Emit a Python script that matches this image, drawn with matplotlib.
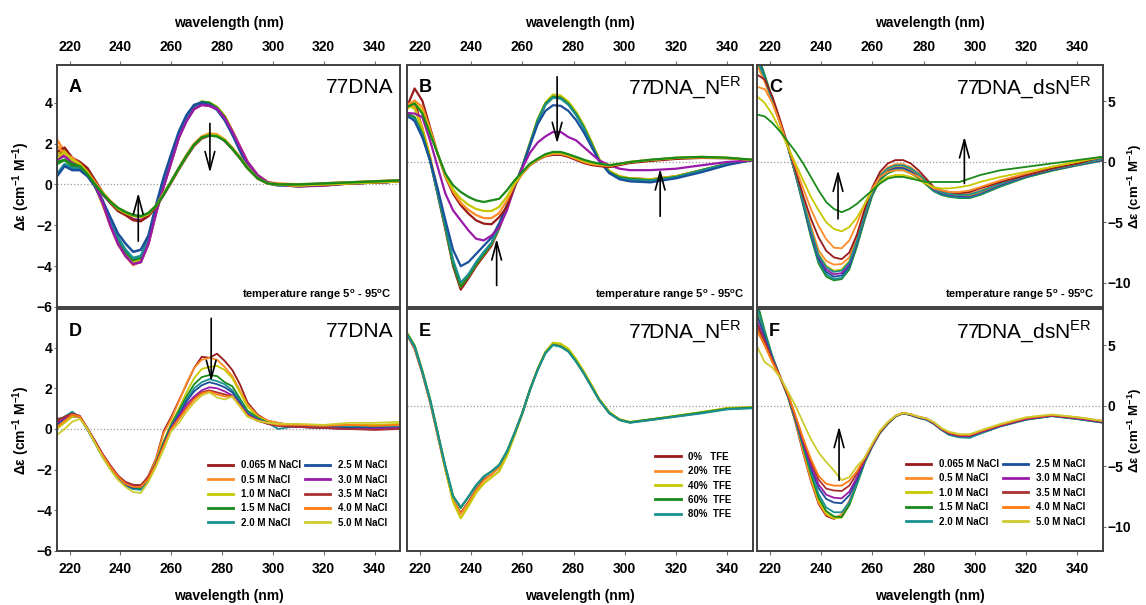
import matplotlib
matplotlib.use("Agg")
import matplotlib.pyplot as plt

plt.rcParams["font.family"] = ["Liberation Sans", "DejaVu Sans"]

# wavelength grid (nm) shared by all spectra
WL = [215, 218, 221, 224, 227, 230, 233, 236, 239, 242, 245, 248, 251, 254, 257, 260, 263,
      266, 269, 272, 275, 278, 281, 284, 287, 290, 294, 298, 302, 310, 320, 330, 340, 350]
XTICKS = [220, 240, 260, 280, 300, 320, 340]

DKRED, ORANGE, YELLOW, GREEN, TEAL = "#991a1a", "#ff8c28", "#c8c800", "#1a8a1a", "#1a9090"
BLUE, PURPLE, BROWN, ORANGE2, YELLOW2 = "#1a4f9a", "#9a1aaa", "#a83232", "#ff7a10", "#cccc30"
SALT_COLORS = [DKRED, ORANGE, YELLOW, GREEN, TEAL, BLUE, PURPLE, BROWN, ORANGE2, YELLOW2]
SALT_LABELS = ["0.065 M NaCl", "0.5 M NaCl", "1.0 M NaCl", "1.5 M NaCl", "2.0 M NaCl",
               "2.5 M NaCl", "3.0 M NaCl", "3.5 M NaCl", "4.0 M NaCl", "5.0 M NaCl"]
TFE_COLORS = [DKRED, ORANGE, YELLOW, GREEN, TEAL]
TFE_LABELS = ["0%   TFE", "20%  TFE", "40%  TFE", "60%  TFE", "80%  TFE"]

# ---- panel A: 77DNA, temperature 5-95 C
A_CURVES = [
    [1.6, 1.5, 1.1, 1.0, 0.7, 0.1, -0.9, -2.0, -2.9, -3.5, -3.9, -3.8, -2.9, -1.4, -0.1, 1.1, 2.3, 3.15, 3.7, 3.9, 3.85, 3.7, 3.3, 2.6, 1.85, 1.1, 0.45, 0.1, 0.0, -0.05, -0.05, 0.05, 0.1, 0.15],
    [2.2, 1.6, 1.2, 0.9, 0.5, -0.1, -1.0, -2.0, -2.9, -3.5, -3.95, -3.75, -2.85, -1.35, 0.0, 1.2, 2.35, 3.2, 3.8, 4.0, 3.95, 3.75, 3.35, 2.65, 1.85, 1.1, 0.45, 0.1, 0.05, 0.0, 0.05, 0.1, 0.15, 0.2],
    [1.5, 1.8, 1.1, 0.9, 0.6, 0.0, -0.9, -1.9, -2.8, -3.4, -3.8, -3.65, -2.8, -1.3, 0.0, 1.2, 2.35, 3.2, 3.8, 4.05, 4.0, 3.8, 3.35, 2.6, 1.8, 1.05, 0.4, 0.08, 0.0, -0.05, 0.0, 0.05, 0.1, 0.15],
    [1.0, 1.2, 0.9, 0.8, 0.5, 0.0, -0.8, -1.8, -2.7, -3.3, -3.7, -3.6, -2.7, -1.2, 0.1, 1.3, 2.45, 3.3, 3.85, 4.05, 4.0, 3.75, 3.3, 2.55, 1.75, 1.0, 0.35, 0.05, 0.0, -0.1, 0.0, 0.05, 0.1, 0.15],
    [0.5, 1.0, 0.8, 0.8, 0.5, -0.1, -0.9, -1.8, -2.6, -3.2, -3.6, -3.5, -2.7, -1.2, 0.2, 1.4, 2.5, 3.3, 3.85, 4.0, 3.9, 3.7, 3.2, 2.5, 1.7, 0.95, 0.35, 0.05, 0.0, -0.05, 0.0, 0.05, 0.1, 0.15],
    [0.4, 0.9, 0.7, 0.7, 0.4, -0.1, -0.8, -1.6, -2.4, -2.9, -3.3, -3.2, -2.5, -1.0, 0.35, 1.5, 2.6, 3.4, 3.9, 4.0, 3.9, 3.65, 3.15, 2.45, 1.65, 0.9, 0.3, 0.05, -0.05, -0.05, 0.0, 0.05, 0.1, 0.15],
    [1.4, 1.4, 1.0, 0.9, 0.6, 0.0, -0.9, -2.0, -2.9, -3.5, -3.9, -3.8, -2.9, -1.4, -0.1, 1.1, 2.3, 3.1, 3.7, 3.9, 3.85, 3.7, 3.25, 2.6, 1.85, 1.1, 0.45, 0.1, 0.0, -0.1, -0.05, 0.05, 0.1, 0.15],
    [1.2, 1.4, 1.1, 1.0, 0.7, 0.1, -0.5, -0.9, -1.25, -1.45, -1.7, -1.75, -1.5, -1.1, -0.5, 0.15, 0.8, 1.4, 1.95, 2.3, 2.45, 2.4, 2.15, 1.75, 1.3, 0.8, 0.3, 0.05, 0.0, -0.05, 0.0, 0.05, 0.1, 0.15],
    [1.6, 1.8, 1.3, 1.1, 0.8, 0.2, -0.4, -0.9, -1.3, -1.5, -1.75, -1.8, -1.55, -1.1, -0.5, 0.1, 0.75, 1.35, 1.9, 2.25, 2.4, 2.4, 2.15, 1.75, 1.3, 0.8, 0.3, 0.05, 0.0, -0.05, 0.0, 0.05, 0.1, 0.15],
    [1.9, 1.5, 1.3, 1.0, 0.6, 0.1, -0.4, -0.8, -1.15, -1.35, -1.5, -1.6, -1.4, -1.05, -0.45, 0.15, 0.8, 1.45, 2.0, 2.35, 2.5, 2.45, 2.2, 1.8, 1.35, 0.85, 0.3, 0.05, 0.0, -0.05, 0.05, 0.1, 0.15, 0.2],
    [1.3, 1.6, 1.2, 1.0, 0.6, 0.0, -0.4, -0.85, -1.2, -1.4, -1.55, -1.6, -1.45, -1.05, -0.45, 0.15, 0.8, 1.4, 1.95, 2.3, 2.45, 2.4, 2.2, 1.75, 1.3, 0.8, 0.3, 0.05, 0.0, -0.05, 0.0, 0.05, 0.1, 0.15],
    [1.1, 1.2, 1.0, 0.9, 0.5, 0.0, -0.45, -0.85, -1.15, -1.35, -1.5, -1.55, -1.4, -1.05, -0.5, 0.15, 0.8, 1.4, 1.95, 2.3, 2.4, 2.35, 2.15, 1.75, 1.3, 0.8, 0.3, 0.05, 0.0, 0.0, 0.05, 0.1, 0.15, 0.2],
]
A_COLORS = [DKRED, ORANGE, YELLOW, GREEN, TEAL, BLUE, PURPLE, PURPLE, DKRED, ORANGE, YELLOW, GREEN]

# ---- panel B: 77DNA_N^ER, temperature 5-95 C
B_CURVES = [
    [2.6, 3.0, 1.6, 0.1, -1.6, -3.3, -5.1, -6.25, -5.7, -5.1, -4.6, -4.1, -3.25, -2.25, -1.25, -0.3, 0.85, 2.0, 2.8, 3.2, 3.2, 2.9, 2.4, 1.75, 0.95, 0.1, -0.5, -0.75, -0.8, -0.85, -0.7, -0.4, -0.1, 0.1],
    [2.9, 2.7, 1.7, 0.3, -1.4, -3.1, -4.9, -6.1, -5.6, -5.0, -4.5, -4.0, -3.2, -2.2, -1.2, -0.25, 0.9, 2.05, 2.85, 3.25, 3.2, 2.9, 2.4, 1.75, 0.95, 0.12, -0.45, -0.7, -0.8, -0.85, -0.7, -0.4, -0.1, 0.1],
    [2.8, 2.6, 1.6, 0.2, -1.5, -3.15, -4.95, -6.0, -5.55, -5.0, -4.5, -4.0, -3.2, -2.2, -1.2, -0.2, 0.95, 2.1, 2.9, 3.3, 3.25, 2.95, 2.45, 1.8, 1.0, 0.15, -0.45, -0.7, -0.8, -0.85, -0.7, -0.4, -0.1, 0.1],
    [2.37, 2.2, 1.4, 0.1, -1.55, -3.2, -5.0, -6.1, -5.6, -5.0, -4.5, -4.0, -3.2, -2.2, -1.2, -0.25, 0.9, 2.05, 2.85, 3.2, 3.15, 2.85, 2.35, 1.7, 0.9, 0.08, -0.5, -0.75, -0.82, -0.9, -0.73, -0.4, -0.08, 0.1],
    [2.2, 2.1, 1.3, 0.05, -1.5, -3.1, -4.8, -5.9, -5.5, -4.9, -4.4, -3.95, -3.15, -2.2, -1.2, -0.25, 0.88, 2.0, 2.8, 3.15, 3.1, 2.8, 2.3, 1.65, 0.85, 0.05, -0.55, -0.8, -0.88, -0.92, -0.75, -0.42, -0.1, 0.1],
    [2.3, 2.0, 1.2, 0.1, -1.3, -2.85, -4.3, -5.1, -4.9, -4.5, -4.1, -3.7, -3.0, -2.1, -1.15, -0.25, 0.8, 1.85, 2.5, 2.78, 2.75, 2.5, 2.05, 1.45, 0.75, 0.05, -0.55, -0.85, -0.95, -1.0, -0.8, -0.5, -0.15, 0.1],
    [2.4, 2.37, 2.2, 1.06, -0.25, -1.55, -2.37, -2.86, -3.35, -3.76, -3.84, -3.6, -3.2, -2.37, -1.2, -0.3, 0.45, 0.95, 1.25, 1.47, 1.47, 1.22, 1.06, 0.73, 0.4, 0.08, -0.16, -0.33, -0.4, -0.4, -0.33, -0.16, 0.0, 0.08],
    [2.7, 3.6, 3.0, 1.7, 0.4, -0.73, -1.55, -2.12, -2.53, -2.86, -3.02, -3.05, -2.7, -2.2, -1.14, -0.57, -0.16, 0.1, 0.28, 0.35, 0.35, 0.25, 0.1, -0.05, -0.15, -0.2, -0.25, -0.15, -0.05, 0.05, 0.15, 0.2, 0.18, 0.1],
    [2.8, 3.0, 2.7, 1.6, 0.4, -0.7, -1.45, -2.0, -2.35, -2.6, -2.75, -2.75, -2.5, -1.9, -1.1, -0.55, -0.15, 0.12, 0.3, 0.4, 0.4, 0.3, 0.15, 0.0, -0.1, -0.15, -0.2, -0.1, 0.0, 0.1, 0.2, 0.22, 0.2, 0.1],
    [2.6, 2.9, 2.5, 1.5, 0.4, -0.65, -1.35, -1.8, -2.1, -2.3, -2.4, -2.4, -2.2, -1.7, -1.05, -0.55, -0.12, 0.15, 0.35, 0.45, 0.45, 0.35, 0.2, 0.05, -0.05, -0.1, -0.15, -0.1, 0.0, 0.1, 0.2, 0.25, 0.2, 0.1],
    [2.7, 2.86, 2.37, 1.39, 0.4, -0.57, -1.14, -1.47, -1.71, -1.88, -1.96, -1.88, -1.8, -1.39, -0.9, -0.49, -0.08, 0.16, 0.38, 0.49, 0.49, 0.38, 0.25, 0.11, 0.0, -0.08, -0.16, -0.08, 0.0, 0.11, 0.21, 0.25, 0.21, 0.11],
]
B_COLORS = [DKRED, ORANGE, YELLOW, GREEN, TEAL, BLUE, PURPLE, DKRED, ORANGE, YELLOW, GREEN]

# ---- panel C: 77DNA_dsN^ER, temperature 5-95 C
C_CURVES = [
    [9.0, 7.2, 5.2, 3.2, 1.2, -1.1, -3.6, -6.2, -8.4, -9.5, -9.8, -9.7, -8.9, -7.0, -4.8, -2.8, -1.5, -0.95, -0.7, -0.7, -0.95, -1.35, -1.9, -2.45, -2.75, -2.9, -3.0, -3.0, -2.75, -2.05, -1.3, -0.75, -0.3, 0.1],
    [8.8, 7.0, 5.1, 3.2, 1.25, -1.0, -3.5, -6.0, -8.2, -9.3, -9.7, -9.6, -8.75, -6.8, -4.6, -2.65, -1.4, -0.85, -0.6, -0.6, -0.85, -1.25, -1.8, -2.4, -2.7, -2.85, -2.95, -2.95, -2.7, -2.0, -1.25, -0.7, -0.28, 0.12],
    [8.6, 6.9, 5.0, 3.2, 1.25, -1.0, -3.4, -5.9, -8.0, -9.1, -9.5, -9.4, -8.6, -6.7, -4.5, -2.55, -1.3, -0.75, -0.5, -0.5, -0.75, -1.2, -1.75, -2.3, -2.6, -2.75, -2.85, -2.85, -2.6, -1.9, -1.2, -0.68, -0.25, 0.15],
    [8.5, 6.8, 5.0, 3.2, 1.3, -0.95, -3.3, -5.7, -7.8, -8.9, -9.3, -9.2, -8.4, -6.5, -4.4, -2.45, -1.2, -0.65, -0.4, -0.4, -0.65, -1.1, -1.7, -2.25, -2.55, -2.7, -2.8, -2.8, -2.55, -1.85, -1.15, -0.62, -0.22, 0.2],
    [8.3, 6.7, 4.9, 3.2, 1.3, -0.9, -3.2, -5.5, -7.6, -8.6, -9.0, -8.9, -8.2, -6.4, -4.3, -2.4, -1.15, -0.6, -0.35, -0.35, -0.6, -1.05, -1.65, -2.2, -2.5, -2.65, -2.75, -2.75, -2.5, -1.8, -1.1, -0.6, -0.2, 0.25],
    [8.0, 6.6, 4.9, 3.2, 1.35, -0.85, -3.1, -5.3, -7.3, -8.2, -8.5, -8.45, -7.9, -6.2, -4.15, -2.3, -1.05, -0.45, -0.2, -0.2, -0.45, -0.95, -1.55, -2.15, -2.45, -2.6, -2.7, -2.65, -2.4, -1.75, -1.05, -0.55, -0.15, 0.3],
    [8.4, 6.9, 5.0, 3.2, 1.3, -0.95, -3.3, -5.6, -7.7, -8.7, -9.1, -9.0, -8.3, -6.5, -4.35, -2.4, -1.15, -0.55, -0.3, -0.3, -0.55, -1.0, -1.6, -2.2, -2.5, -2.65, -2.75, -2.7, -2.45, -1.8, -1.1, -0.6, -0.2, 0.25],
    [7.2, 6.8, 5.4, 3.47, 1.4, -0.7, -2.8, -4.7, -6.25, -7.36, -7.9, -8.05, -7.5, -6.0, -3.9, -2.1, -0.83, -0.14, 0.14, 0.14, -0.14, -0.7, -1.39, -2.1, -2.36, -2.5, -2.6, -2.5, -2.2, -1.67, -1.1, -0.55, -0.14, 0.42],
    [6.2, 6.0, 4.86, 3.2, 1.25, -0.42, -2.2, -3.9, -5.3, -6.4, -7.1, -7.15, -6.5, -5.1, -3.5, -2.2, -1.25, -0.83, -0.7, -0.7, -0.97, -1.25, -1.8, -2.2, -2.36, -2.5, -2.5, -2.36, -2.1, -1.53, -0.97, -0.42, 0.0, 0.42],
    [5.4, 4.86, 3.9, 2.64, 1.25, -0.14, -1.53, -2.9, -4.0, -5.0, -5.55, -5.75, -5.4, -4.6, -3.5, -2.36, -1.67, -1.25, -1.1, -1.1, -1.25, -1.53, -1.8, -2.1, -2.2, -2.2, -2.1, -1.95, -1.67, -1.25, -0.83, -0.42, 0.0, 0.42],
    [3.9, 3.75, 3.2, 2.5, 1.67, 0.83, -0.14, -1.25, -2.36, -3.33, -3.9, -4.17, -3.9, -3.47, -2.9, -2.36, -1.8, -1.39, -1.25, -1.25, -1.39, -1.53, -1.67, -1.67, -1.67, -1.67, -1.67, -1.39, -1.1, -0.7, -0.42, -0.14, 0.14, 0.42],
]
C_COLORS = [GREEN, TEAL, BLUE, PURPLE, YELLOW, ORANGE, TEAL, DKRED, ORANGE, YELLOW, GREEN]

# ---- panel D: 77DNA, NaCl series
D_CURVES = [
    [0.5, 0.55, 0.6, 0.6, 0.05, -0.6, -1.25, -1.8, -2.3, -2.65, -2.75, -2.85, -2.3, -1.45, -0.1, 0.6, 1.4, 2.2, 3.0, 3.55, 3.5, 3.7, 3.35, 2.9, 2.2, 1.3, 0.7, 0.4, 0.3, 0.1, 0.05, 0.0, 0.0, 0.05],
    [0.3, 0.5, 0.7, 0.6, 0.0, -0.65, -1.3, -1.85, -2.35, -2.7, -2.85, -2.9, -2.35, -1.5, -0.2, 0.5, 1.35, 2.25, 3.0, 3.4, 3.5, 3.4, 3.05, 2.6, 1.9, 1.2, 0.65, 0.4, 0.3, 0.15, 0.1, 0.05, 0.1, 0.1],
    [0.0, 0.3, 0.6, 0.6, 0.0, -0.65, -1.3, -1.85, -2.35, -2.7, -2.9, -2.9, -2.4, -1.6, -0.6, 0.3, 1.0, 1.8, 2.5, 2.95, 3.05, 3.1, 2.9, 2.5, 1.8, 1.1, 0.6, 0.35, 0.25, 0.2, 0.15, 0.2, 0.2, 0.25],
    [0.4, 0.6, 0.8, 0.6, 0.0, -0.7, -1.35, -1.9, -2.4, -2.75, -2.95, -2.95, -2.45, -1.65, -0.65, 0.2, 0.9, 1.6, 2.2, 2.55, 2.65, 2.6, 2.3, 2.1, 1.5, 0.9, 0.55, 0.3, 0.2, 0.1, 0.05, 0.05, 0.0, 0.0],
    [0.3, 0.6, 0.85, 0.55, -0.05, -0.7, -1.4, -1.95, -2.45, -2.8, -2.95, -3.0, -2.5, -1.7, -0.7, 0.15, 0.8, 1.45, 2.0, 2.3, 2.45, 2.35, 2.2, 1.9, 1.4, 0.8, 0.5, 0.3, 0.0, 0.15, 0.15, 0.1, 0.15, 0.1],
    [0.2, 0.5, 0.7, 0.6, 0.0, -0.65, -1.3, -1.9, -2.4, -2.75, -2.9, -2.85, -2.45, -1.7, -0.75, 0.1, 0.7, 1.35, 1.85, 2.15, 2.3, 2.2, 2.05, 1.8, 1.3, 0.75, 0.45, 0.3, 0.2, 0.1, 0.1, 0.05, 0.05, 0.05],
    [0.3, 0.55, 0.75, 0.6, 0.0, -0.6, -1.25, -1.8, -2.3, -2.65, -2.8, -2.8, -2.4, -1.7, -0.8, 0.05, 0.6, 1.2, 1.6, 1.9, 2.05, 2.0, 1.85, 1.65, 1.2, 0.7, 0.45, 0.25, 0.15, 0.1, 0.05, 0.0, 0.0, 0.05],
    [0.4, 0.6, 0.75, 0.65, 0.0, -0.6, -1.25, -1.8, -2.3, -2.6, -2.75, -2.75, -2.35, -1.7, -0.8, 0.0, 0.5, 1.05, 1.5, 1.8, 1.9, 1.8, 1.7, 1.6, 1.15, 0.65, 0.4, 0.25, 0.15, 0.1, 0.05, 0.0, -0.05, 0.0],
    [0.1, 0.4, 0.7, 0.6, 0.0, -0.65, -1.3, -1.85, -2.35, -2.7, -2.85, -2.85, -2.45, -1.75, -0.85, 0.0, 0.5, 1.0, 1.45, 1.75, 1.85, 1.7, 1.6, 1.6, 1.15, 0.65, 0.4, 0.3, 0.2, 0.2, 0.15, 0.2, 0.15, 0.2],
    [-0.3, 0.0, 0.35, 0.5, 0.0, -0.7, -1.4, -2.0, -2.5, -2.85, -3.1, -3.15, -2.6, -1.85, -1.0, -0.1, 0.3, 0.85, 1.3, 1.65, 1.8, 1.55, 1.45, 1.6, 1.1, 0.6, 0.4, 0.3, 0.25, 0.25, 0.2, 0.3, 0.3, 0.35],
]

# ---- panel E: 77DNA_N^ER, TFE series
E_CURVES = [
    [3.5, 2.8, 1.6, 0.2, -1.45, -3.1, -4.6, -5.25, -4.7, -4.1, -3.6, -3.35, -3.0, -2.3, -1.35, -0.35, 0.8, 1.8, 2.6, 3.0, 2.95, 2.7, 2.2, 1.62, 0.97, 0.3, -0.35, -0.68, -0.8, -0.68, -0.5, -0.33, -0.12, -0.08],
    [3.55, 2.85, 1.65, 0.25, -1.4, -3.05, -4.6, -5.3, -4.75, -4.15, -3.65, -3.35, -3.0, -2.3, -1.35, -0.35, 0.8, 1.8, 2.62, 3.05, 3.0, 2.72, 2.22, 1.65, 1.0, 0.32, -0.33, -0.67, -0.8, -0.67, -0.5, -0.32, -0.12, -0.08],
    [3.6, 2.95, 1.75, 0.3, -1.35, -3.1, -4.7, -5.5, -4.9, -4.25, -3.8, -3.5, -3.2, -2.45, -1.45, -0.4, 0.78, 1.8, 2.65, 3.1, 3.05, 2.8, 2.3, 1.7, 1.05, 0.35, -0.3, -0.65, -0.78, -0.66, -0.48, -0.3, -0.1, -0.05],
    [3.55, 2.95, 1.7, 0.35, -1.3, -2.95, -4.4, -5.0, -4.45, -3.9, -3.45, -3.2, -2.88, -2.22, -1.32, -0.35, 0.8, 1.78, 2.6, 3.0, 2.92, 2.68, 2.18, 1.6, 0.95, 0.3, -0.35, -0.68, -0.8, -0.66, -0.5, -0.32, -0.14, -0.08],
    [3.5, 2.9, 1.68, 0.3, -1.34, -2.97, -4.44, -4.95, -4.44, -3.87, -3.46, -3.2, -2.9, -2.24, -1.34, -0.36, 0.78, 1.76, 2.58, 2.99, 2.9, 2.66, 2.17, 1.6, 0.95, 0.29, -0.36, -0.69, -0.82, -0.69, -0.52, -0.36, -0.16, -0.11],
]

# ---- panel F: 77DNA_dsN^ER, NaCl series
F_CURVES = [
    [6.6, 5.2, 3.7, 2.3, 0.8, -1.4, -3.9, -6.2, -8.1, -9.1, -9.35, -9.0, -7.9, -6.3, -4.6, -3.3, -2.2, -1.45, -0.85, -0.6, -0.75, -0.95, -1.1, -1.45, -1.95, -2.3, -2.5, -2.5, -2.2, -1.65, -1.1, -0.82, -1.05, -1.35],
    [6.3, 5.0, 3.6, 2.3, 0.85, -1.3, -3.8, -6.1, -8.0, -9.0, -9.3, -9.0, -7.95, -6.3, -4.6, -3.3, -2.2, -1.45, -0.85, -0.6, -0.75, -0.95, -1.1, -1.4, -1.9, -2.25, -2.4, -2.4, -2.1, -1.6, -1.05, -0.8, -1.0, -1.3],
    [7.8, 5.8, 3.9, 2.4, 0.8, -1.2, -3.5, -5.8, -7.8, -8.9, -9.3, -9.25, -8.2, -6.4, -4.65, -3.3, -2.2, -1.45, -0.85, -0.6, -0.75, -0.95, -1.1, -1.45, -1.95, -2.3, -2.45, -2.45, -2.15, -1.6, -1.05, -0.8, -1.0, -1.3],
    [8.6, 6.2, 4.1, 2.4, 0.75, -1.2, -3.4, -5.6, -7.6, -8.7, -9.15, -9.2, -8.2, -6.5, -4.7, -3.35, -2.25, -1.5, -0.9, -0.62, -0.78, -1.0, -1.15, -1.5, -2.0, -2.4, -2.6, -2.6, -2.3, -1.7, -1.15, -0.85, -1.1, -1.4],
    [8.2, 6.0, 4.0, 2.4, 0.8, -1.15, -3.3, -5.4, -7.3, -8.4, -8.8, -8.8, -8.0, -6.4, -4.65, -3.3, -2.2, -1.45, -0.88, -0.62, -0.78, -1.0, -1.15, -1.5, -2.0, -2.4, -2.6, -2.65, -2.3, -1.7, -1.15, -0.85, -1.1, -1.4],
    [7.5, 5.7, 3.9, 2.4, 0.9, -1.0, -3.1, -5.1, -6.8, -7.7, -8.0, -8.05, -7.4, -6.1, -4.55, -3.3, -2.2, -1.45, -0.85, -0.6, -0.75, -0.95, -1.1, -1.45, -1.95, -2.3, -2.5, -2.5, -2.2, -1.65, -1.1, -0.82, -1.05, -1.35],
    [7.0, 5.4, 3.8, 2.4, 0.9, -0.95, -3.0, -4.9, -6.5, -7.35, -7.6, -7.65, -7.1, -5.9, -4.5, -3.25, -2.15, -1.4, -0.85, -0.6, -0.75, -0.95, -1.1, -1.45, -1.95, -2.3, -2.5, -2.5, -2.2, -1.65, -1.1, -0.82, -1.05, -1.35],
    [6.8, 5.3, 3.75, 2.4, 0.95, -0.9, -2.85, -4.6, -6.1, -6.85, -7.0, -7.05, -6.6, -5.6, -4.4, -3.2, -2.15, -1.4, -0.85, -0.6, -0.72, -0.92, -1.05, -1.4, -1.9, -2.25, -2.45, -2.45, -2.15, -1.6, -1.05, -0.8, -1.0, -1.3],
    [6.2, 5.0, 3.6, 2.4, 1.0, -0.8, -2.7, -4.4, -5.8, -6.45, -6.6, -6.6, -6.2, -5.4, -4.3, -3.15, -2.1, -1.38, -0.83, -0.58, -0.7, -0.9, -1.05, -1.38, -1.88, -2.2, -2.4, -2.4, -2.1, -1.55, -1.0, -0.75, -0.95, -1.25],
    [4.9, 3.6, 3.15, 2.35, 1.2, 0.0, -1.4, -2.75, -3.85, -4.65, -5.35, -6.15, -5.9, -5.0, -4.3, -3.1, -2.05, -1.35, -0.82, -0.6, -0.7, -0.9, -1.05, -1.35, -1.85, -2.15, -2.35, -2.35, -2.05, -1.5, -0.95, -0.72, -0.95, -1.25],
]

YLABEL = "Δε (cm$^{\\mathregular{-1}}$ M$^{\\mathregular{-1}}$)"
TEMP_NOTE = "temperature range 5$^{\\mathregular{o}}$ - 95$^{\\mathregular{o}}$C"
SPINE = "#404040"


def setup(ax, ylim, yticks, top_row, yside):
    ax.set_xlim(215, 350)
    ax.set_ylim(*ylim)
    ax.set_xticks(XTICKS)
    ax.set_yticks(yticks)
    for s in ax.spines.values():
        s.set_color(SPINE)
        s.set_linewidth(1.4)
    ax.axhline(0, color="#9a9a9a", ls=":", lw=0.9, zorder=0)
    ax.tick_params(length=3, width=0.8, color="#707070", labelsize=10)
    ax.tick_params(axis="x", pad=5)
    ax.tick_params(axis="y", pad=1.5, length=2)
    if top_row:
        ax.xaxis.tick_top()
        ax.xaxis.set_label_position("top")
    ax.set_xlabel("wavelength (nm)", fontsize=10, fontweight="bold", labelpad=9)
    if yside == "left":
        ax.set_ylabel(YLABEL, fontsize=10, fontweight="bold")
        ax.yaxis.label.set_va("center")
        ax.yaxis.set_label_coords(-0.103, 0.5)
    elif yside == "right":
        ax.yaxis.tick_right()
        ax.yaxis.set_label_position("right")
        ax.set_ylabel(YLABEL, fontsize=9.5, fontweight="bold", rotation=90)
        ax.yaxis.label.set_va("center")
        ax.yaxis.set_label_coords(1.091, 0.5)
    else:
        ax.tick_params(axis="y", left=False, labelleft=False)
    for lab in ax.get_xticklabels() + ax.get_yticklabels():
        lab.set_fontweight("bold")


def tags(ax, letter, name, xname=0.975):
    ax.text(0.035, 0.905, letter, transform=ax.transAxes, fontsize=13, fontweight="bold",
            ha="left", va="center")
    ax.text(xname, 0.905, name, transform=ax.transAxes, fontsize=15, ha="right", va="center")


def arrow(ax, x, y0, y1):
    ax.annotate("", xy=(x, y1), xytext=(x, y0),
                arrowprops=dict(arrowstyle="->,head_length=1.3,head_width=0.35", lw=1.2,
                                color="black", shrinkA=0, shrinkB=0, mutation_scale=10))


fig = plt.figure(figsize=(11.46, 6.05), dpi=100)
axA = fig.add_axes([0.0497, 0.4926, 0.2993, 0.400])
axB = fig.add_axes([0.3551, 0.4926, 0.3019, 0.400])
axC = fig.add_axes([0.6606, 0.4926, 0.3019, 0.400])
axD = fig.add_axes([0.0497, 0.0893, 0.2993, 0.400])
axE = fig.add_axes([0.3551, 0.0893, 0.3019, 0.400])
axF = fig.add_axes([0.6606, 0.0893, 0.3019, 0.400])

setup(axA, (-6, 5.85), [-6, -4, -2, 0, 2, 4], True, "left")
setup(axB, (-7.1, 4.75), [], True, None)
setup(axC, (-12, 8), [-10, -5, 0, 5], True, "right")
setup(axD, (-6, 5.9), [-6, -4, -2, 0, 2, 4], False, "left")
setup(axE, (-7.1, 4.75), [], False, None)
setup(axF, (-12, 8), [-10, -5, 0, 5], False, "right")

for vals, col in zip(A_CURVES, A_COLORS):
    axA.plot(WL, vals, color=col, lw=1.8)
for vals, col in zip(B_CURVES, B_COLORS):
    axB.plot(WL, vals, color=col, lw=1.6)
for vals, col in zip(C_CURVES, C_COLORS):
    axC.plot(WL, vals, color=col, lw=1.3)
for vals, col, lab in zip(D_CURVES, SALT_COLORS, SALT_LABELS):
    axD.plot(WL, vals, color=col, lw=1.3, label=lab)
for vals, col, lab in zip(E_CURVES, TFE_COLORS, TFE_LABELS):
    axE.plot(WL, vals, color=col, lw=1.5, label=lab)
for vals, col, lab in zip(F_CURVES, SALT_COLORS, SALT_LABELS):
    axF.plot(WL, vals, color=col, lw=1.3, label=lab)

tags(axA, "A", "77DNA", 0.98)
tags(axB, "B", "77DNA_N$^{\\mathregular{ER}}$", 0.968)
tags(axC, "C", "77DNA_dsN$^{\\mathregular{ER}}$", 0.968)
tags(axD, "D", "77DNA", 0.98)
tags(axE, "E", "77DNA_N$^{\\mathregular{ER}}$", 0.968)
tags(axF, "F", "77DNA_dsN$^{\\mathregular{ER}}$", 0.968)

for ax in (axA, axB, axC):
    ax.text(0.975, 0.05, TEMP_NOTE, transform=ax.transAxes, fontsize=8, fontweight="bold",
            ha="right", va="center")

arrow(axA, 247, -2.78, -0.41)
arrow(axA, 275.2, 2.99, 0.57)
arrow(axB, 273.6, 4.17, 0.9)
arrow(axB, 250, -6.05, -3.76)
arrow(axB, 313.8, -2.66, -0.33)
arrow(axC, 246.6, -4.72, -0.69)
arrow(axC, 295.9, -1.8, 2.08)
arrow(axD, 275.7, 5.44, 2.33)
arrow(axF, 247, -6.16, -1.7)

leg_kw = dict(frameon=False, prop={"size": 7, "weight": "bold"}, handlelength=2.6,
              labelspacing=0.45, columnspacing=0.4, handletextpad=0.8, borderaxespad=0)
legD = axD.legend(ncol=2, loc="lower right", bbox_to_anchor=(0.975, 0.08), **leg_kw)
legE = axE.legend(ncol=1, loc="lower right", bbox_to_anchor=(0.95, 0.115), **leg_kw)
legF = axF.legend(ncol=2, loc="lower right", bbox_to_anchor=(0.96, 0.085), **leg_kw)
for leg in (legD, legE, legF):
    for ln in leg.get_lines():
        ln.set_linewidth(2.0)

fig.savefig("out.png", dpi=100)
